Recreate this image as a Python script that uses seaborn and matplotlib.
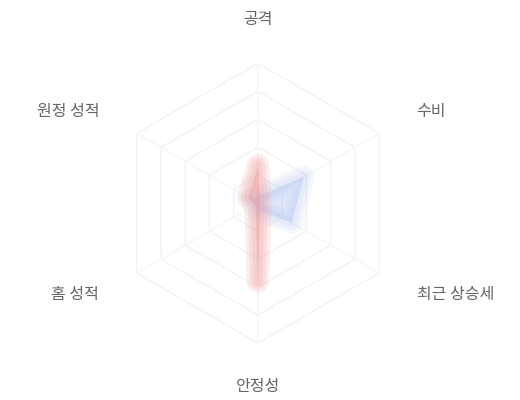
import numpy as np
import matplotlib
matplotlib.use("Agg")
import matplotlib.pyplot as plt
import seaborn as sns

sns.set_theme(style="white")
plt.rcParams['font.family'] = ['Noto Sans CJK KR', 'DejaVu Sans']

# axes, clockwise from top
categories = ['공격', '수비', '최근 상승세', '안정성', '홈 성적', '원정 성적']
team_a = [27, 2, 2, 56, 2, 8]
team_b = [5, 38, 28, 5, 3, 5]
max_value = 100
rings = [20, 40, 60, 80, 100]

n = len(categories)
angles = np.linspace(0, 2 * np.pi, n, endpoint=False)
closed = np.append(angles, angles[0])

fig = plt.figure(figsize=(5.2, 4.0), dpi=100)
ax = fig.add_axes([0.227, 0.142, 0.538, 0.7], projection='polar')
ax.set_theta_offset(np.pi / 2)
ax.set_theta_direction(-1)
ax.set_ylim(0, max_value)
ax.grid(False)
ax.spines['polar'].set_visible(False)
ax.set_xticks([])
ax.set_yticks([])

# hexagon grid, barely visible
for r in rings:
    ax.plot(closed, [r] * (n + 1), color='#f4f4f4', lw=1.2, zorder=0)
for a in angles:
    ax.plot([a, a], [0, max_value], color='#f7f7f7', lw=1.2, zorder=0)

# series, soft edges by stacking wide translucent strokes
for vals, col, a0 in [(team_b, '#a9bdf0', 0.1), (team_a, '#f09292', 0.17)]:
    v = np.append(vals, vals[0])
    ax.fill(closed, v, color=col, alpha=0.35, lw=0, zorder=2)
    for w in (16, 11, 6):
        ax.plot(closed, v, color=col, alpha=a0, lw=w, solid_joinstyle='round',
                solid_capstyle='round', zorder=3)

# category labels
for a, lab in zip(angles, categories):
    s = np.sin(a)
    ha = 'center' if abs(s) < 0.1 else ('left' if s > 0 else 'right')
    ax.text(a, max_value * 1.31, lab, ha=ha, va='center', fontsize=11.5,
            color='#666666')

fig.savefig('out.png', dpi=100, facecolor='white')
